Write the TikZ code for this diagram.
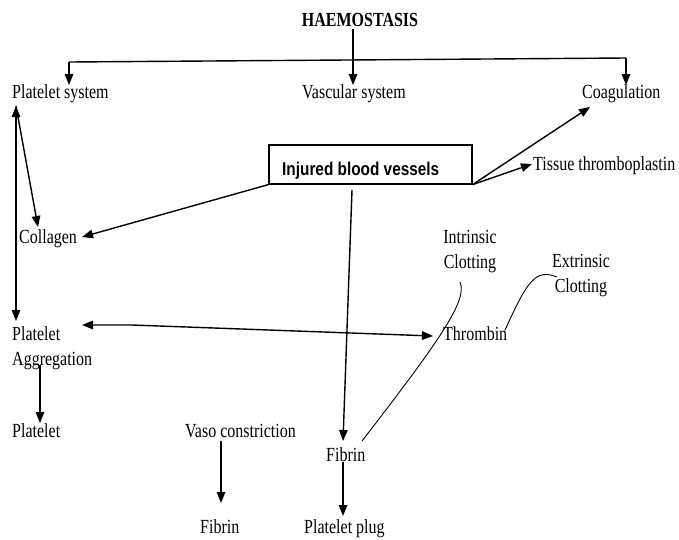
\documentclass[tikz,border=0pt]{standalone}
\usepackage{fontspec}
\setmainfont{Liberation Serif}[FakeStretch=0.8]
\newfontfamily\boxfont{Liberation Sans}[FakeStretch=0.83]
\usetikzlibrary{arrows.meta}
\begin{document}
\begin{tikzpicture}[x=1pt,y=-1pt,
  lbl/.style={inner sep=0pt,font=\fontsize{20}{25}\selectfont},
  conn/.style={line width=1.4pt,-{Triangle[length=11pt,width=8.5pt]}},
  dconn/.style={line width=1.4pt,{Triangle[length=11pt,width=8.5pt]}-{Triangle[length=11pt,width=8.5pt]}},
  plain/.style={line width=1.4pt},
  curve/.style={line width=0.9pt},
  boxstyle/.style={draw,line width=1.2pt,minimum width=203pt,minimum height=39pt,inner sep=0pt}]
\useasboundingbox (0,0) rectangle (679,539);
% text nodes
\node[lbl,anchor=base] (haem) at (360,26) {\bfseries HAEMOSTASIS};
\node[lbl,anchor=base west] (platsys) at (12,98) {Platelet system};
\node[lbl,anchor=base west] (vasc) at (302,98) {Vascular system};
\node[lbl,anchor=base west] (coag) at (582,98) {Coagulation};
\node[boxstyle] (box) at (370.5,164.5) {};
\node[inner sep=0pt,anchor=base west,font=\boxfont\fontsize{18.5}{20}\selectfont\bfseries] (inj) at (282,175) {Injured blood vessels};
\node[lbl,anchor=base west] (tissue) at (533,170) {Tissue thromboplastin};
\node[lbl,anchor=base west] (coll) at (19,243) {Collagen};
\node[lbl,anchor=base,align=center] (intr) at (470,268) {Intrinsic\\Clotting};
\node[lbl,anchor=base,align=center] (extr) at (581,292) {Extrinsic\\Clotting};
\node[lbl,anchor=base west] (thromb) at (443,340) {Thrombin};
\node[lbl,anchor=base west,align=left] (aggr) at (12,365) {Platelet\\Aggregation};
\node[lbl,anchor=base west] (platlow) at (12,437) {Platelet};
\node[lbl,anchor=base west] (vaso) at (185,437) {Vaso constriction};
\node[lbl,anchor=base west] (fibup) at (326,461) {Fibrin};
\node[lbl,anchor=base west] (fiblow) at (200,533) {Fibrin};
\node[lbl,anchor=base west] (plug) at (304,533) {Platelet plug};
% helper coordinates
\coordinate (hbot) at (353,29);
\coordinate (vasctip) at (353,85);
\coordinate (bl) at (69,62);
\coordinate (br) at (626,58);
\coordinate (pstip) at (69,85);
\coordinate (coagdown) at (626,85);
\coordinate (vtop) at (16,106);
\coordinate (vbot) at (16,321);
\coordinate (colltip) at (38,227);
\coordinate (collend) at (82,237);
\coordinate (coagtip) at (590,107);
\coordinate (tisstip) at (532,164);
\coordinate (boxdown) at (352,190);
\coordinate (fibtop) at (343,441);
\coordinate (aggtip) at (82,325);
\coordinate (notch) at (132,325);
\coordinate (thrtip) at (433,336);
\coordinate (aggbot) at (40,365);
\coordinate (plowtop) at (40,423);
\coordinate (vasobot) at (221,441);
\coordinate (fiblowtop) at (221,503);
\coordinate (fibbot) at (343,462);
\coordinate (plugtop) at (343,516);
\coordinate (intrs) at (460,282);
\coordinate (fibc) at (362,441);
\coordinate (extrs) at (557,277);
\coordinate (thre) at (505,330);
% connectors
\draw[conn] (hbot) -- (vasctip);
\draw[plain] (bl) -- (br);
\draw[conn] (bl) -- (pstip);
\draw[conn] (br) -- (coagdown);
\draw[dconn] (vtop) -- (vbot);
\draw[conn] (vtop) -- (colltip);
\draw[conn] (box.south west) -- (collend);
\draw[conn] (box.south east) -- (coagtip);
\draw[conn] (box.south east) -- (tisstip);
\draw[conn] (boxdown) -- (fibtop);
\draw[dconn] (aggtip) -- (notch) -- (thrtip);
\draw[conn] (aggbot) -- (plowtop);
\draw[conn] (vasobot) -- (fiblowtop);
\draw[conn] (fibbot) -- (plugtop);
\draw[curve] (intrs) .. controls (468,300) and (440,340) .. (fibc);
\draw[curve] (thre) .. controls (527,282) and (535,268) .. (extrs);
\end{tikzpicture}
\end{document}
